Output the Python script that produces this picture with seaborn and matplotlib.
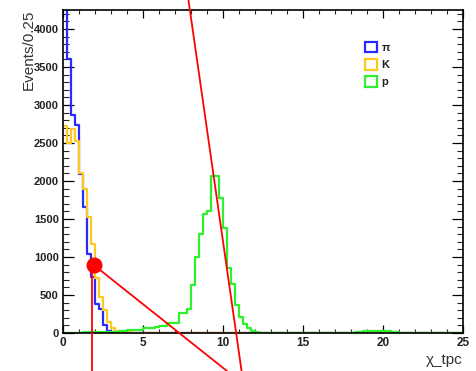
import numpy as np
import pandas as pd
import matplotlib
matplotlib.use("Agg")
import matplotlib.pyplot as plt
import seaborn as sns
from matplotlib.patches import Patch
from matplotlib.ticker import MultipleLocator

sns.set_theme(style="white")
plt.rcParams['font.family'] = ['Liberation Sans', 'DejaVu Sans']

# ---- data: 100 bins of width 0.25 from 0 to 25 ----
bin_edges = [round(0.25 * i, 2) for i in range(101)]

pion = [4700, 3600, 2870, 2735, 2090, 1660, 1040, 740, 380, 320,
        100, 30, 10, 5, 3, 2, 1, 0, 0, 0,
        0, 0, 0, 0, 0, 0, 0, 0, 0, 0,
        0, 0, 0, 0, 0, 0, 0, 0, 0, 0,
        0, 0, 0, 0, 0, 0, 0, 0, 0, 0,
        0, 0, 0, 0, 0, 0, 0, 0, 0, 0,
        0, 0, 0, 0, 0, 0, 0, 0, 0, 0,
        0, 0, 0, 0, 0, 0, 0, 0, 0, 0,
        0, 0, 0, 0, 0, 0, 0, 0, 0, 0,
        0, 0, 0, 0, 0, 0, 0, 0, 0, 0]

kaon = [2720, 2500, 2690, 2520, 2110, 1890, 1520, 1175, 720, 470,
        300, 150, 70, 25, 10, 8, 8, 6, 6, 5,
        5, 5, 5, 5, 5, 5, 5, 5, 5, 5,
        5, 5, 5, 5, 5, 5, 5, 5, 5, 5,
        5, 5, 5, 5, 5, 5, 5, 5, 4, 3,
        2, 2, 2, 2, 2, 2, 2, 2, 2, 2,
        2, 2, 2, 2, 2, 2, 2, 2, 2, 2,
        2, 2, 2, 3, 5, 8, 12, 15, 18, 20,
        15, 12, 8, 5, 3, 2, 1, 1, 1, 1,
        1, 1, 0, 0, 0, 0, 0, 0, 0, 0]

proton = [5, 5, 6, 5, 6, 8, 8, 10, 10, 12,
          12, 15, 15, 18, 20, 20, 40, 40, 40, 40,
          65, 65, 65, 80, 95, 95, 127, 127, 127, 260,
          260, 320, 630, 1000, 1300, 1560, 1610, 2060, 2060, 1770,
          1380, 850, 650, 370, 215, 125, 65, 20, 8, 6,
          5, 5, 5, 5, 5, 5, 5, 5, 5, 5,
          5, 5, 5, 5, 5, 5, 5, 5, 5, 5,
          5, 5, 5, 8, 12, 20, 25, 30, 30, 28,
          25, 22, 15, 8, 6, 5, 5, 5, 5, 5,
          5, 5, 5, 5, 5, 5, 5, 5, 5, 5]

labels = ["\u03c0", "K", "p"]
colors = ["#2a2aff", "#ffc81e", "#2ef02e"]

# red annotation overlay (data coordinates)
dot_xy = (1.92, 895)
line_a_x = [7.84, 11.16]
line_a_y = [4382, -500]
line_b_x = [1.92, 10.25]
line_b_y = [895, -500]
line_c_x = [1.79, 1.79]
line_c_y = [895, -500]

# ---- figure ----
W, H = 477, 371
fig = plt.figure(figsize=(W / 100, H / 100), dpi=100)
ax = fig.add_axes([63 / W, (H - 333) / H, 400 / W, 323 / H])
ax.set_facecolor("white")

centers = [(bin_edges[i] + bin_edges[i + 1]) / 2 for i in range(100)]
for vals, col in zip([pion, kaon, proton], colors):
    df = pd.DataFrame({"x": centers, "w": vals})
    sns.histplot(data=df, x="x", weights="w", bins=bin_edges, element="step",
                 fill=False, color=col, linewidth=1.6, ax=ax)

ax.set_xlim(0, 25)
ax.set_ylim(0, 4250)

for s in ax.spines.values():
    s.set_color("black")
    s.set_linewidth(1.2)

ax.xaxis.set_major_locator(MultipleLocator(5))
ax.xaxis.set_minor_locator(MultipleLocator(1))
ax.yaxis.set_major_locator(MultipleLocator(500))
ax.yaxis.set_minor_locator(MultipleLocator(100))
ax.tick_params(axis="x", which="major", direction="in", length=6, width=0.9,
               top=True, bottom=True, labelsize=8.5, pad=3, colors="black")
ax.tick_params(axis="x", which="minor", direction="in", length=3, width=0.8,
               top=True, bottom=True)
ax.tick_params(axis="y", which="major", direction="in", length=8, width=0.9,
               left=True, right=True, labelsize=8, pad=3, colors="black")
ax.tick_params(axis="y", which="minor", direction="in", length=4.5, width=0.8,
               left=True, right=True)
for lab in ax.get_xticklabels() + ax.get_yticklabels():
    lab.set_fontweight("bold")
    lab.set_color("#222222")

ax.set_xlabel("")
ax.set_ylabel("")
fig.text(463 / W, 1 - 360 / H, "\u03c7_tpc", ha="right", va="center",
         fontsize=11, color="#333333")
fig.text(29 / W, 1 - 10 / H, "Events/0.25", ha="center", va="top",
         rotation=90, fontsize=11, color="#333333")

handles = [Patch(facecolor="white", edgecolor=c, linewidth=1.6) for c in colors]
leg = ax.legend(handles, labels, loc="upper left",
                bbox_to_anchor=((357 - 63) / 400, (333 - 34) / 323),
                frameon=False, fontsize=8, handlelength=1.1, handleheight=1.1,
                labelspacing=0.55, handletextpad=0.4, borderpad=0.2)
for t in leg.get_texts():
    t.set_fontweight("bold")
    t.set_color("#222222")

# red overlay
red = "#ff0000"
ax.plot(line_a_x, line_a_y, color=red, lw=1.3, clip_on=False, zorder=10)
ax.plot(line_b_x, line_b_y, color=red, lw=1.3, clip_on=False, zorder=10)
ax.plot(line_c_x, line_c_y, color=red, lw=1.3, clip_on=False, zorder=10)
ax.plot([dot_xy[0]], [dot_xy[1]], "o", color=red, markersize=10.5,
        clip_on=False, zorder=11)

fig.savefig("out.png", dpi=100)
